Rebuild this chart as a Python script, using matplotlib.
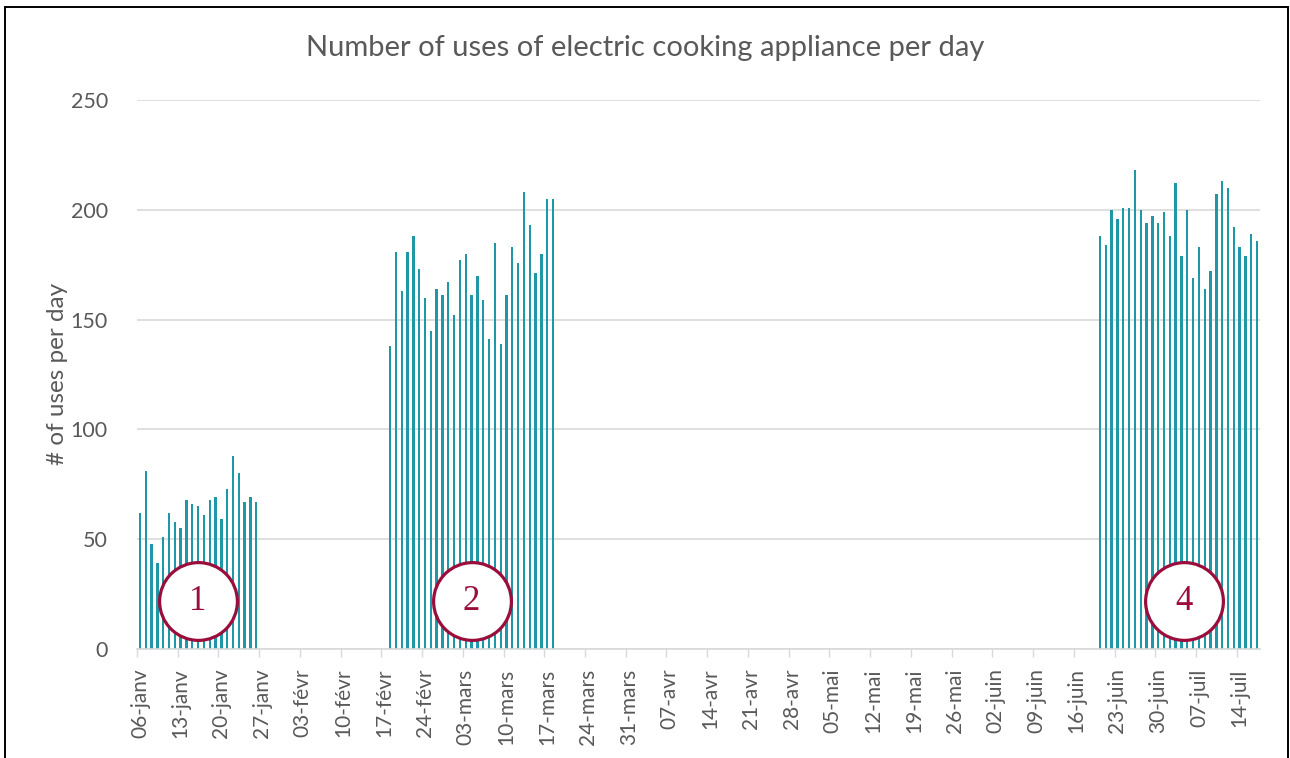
import numpy as np
import pandas as pd
import matplotlib
matplotlib.use('Agg')
import matplotlib.pyplot as plt
import matplotlib.patches as patches

# periodes de mesure (jours consecutifs)
start1 = '2019-01-06'
uses1 = [62, 81, 48, 39, 51, 62, 58, 55, 68, 66, 65, 61, 68, 69, 59, 73, 88, 80, 67, 69, 67]

start2 = '2019-02-18'
uses2 = [138, 181, 163, 181, 188, 173, 160, 145, 164, 161, 167, 152, 177, 180, 161,
         170, 159, 141, 185, 139, 161, 183, 176, 208, 193, 171, 180, 205, 205]

start4 = '2019-06-20'
uses4 = [188, 184, 200, 196, 201, 201, 218, 200, 194, 197, 194, 199, 188, 212, 179,
         200, 169, 183, 164, 172, 207, 213, 210, 192, 183, 179, 189, 186]

first_day = '2019-01-06'
last_day = '2019-07-17'

tick_labels = ['06-janv', '13-janv', '20-janv', '27-janv', '03-févr', '10-févr', '17-févr',
               '24-févr', '03-mars', '10-mars', '17-mars', '24-mars', '31-mars', '07-avr',
               '14-avr', '21-avr', '28-avr', '05-mai', '12-mai', '19-mai', '26-mai',
               '02-juin', '09-juin', '16-juin', '23-juin', '30-juin', '07-juil', '14-juil']

period_labels = ['1', '2', '4']
period_centers = ['2019-01-16', '2019-03-04', '2019-07-04 12:00']

title = 'Number of uses of electric cooking appliance per day'
ylabel = '# of uses per day'

teal = '#1E98A6'
maroon = '#9B0D3A'
grey = '#595959'

plt.rcParams['font.family'] = ['Lato', 'DejaVu Sans']

fig = plt.figure(figsize=(12.9, 7.58), dpi=100)
ax = fig.add_axes([137 / 1290, 1 - 649 / 758, (1260 - 137) / 1290, (649 - 100) / 758])

for start, vals in [(start1, uses1), (start2, uses2), (start4, uses4)]:
    days = pd.date_range(start, periods=len(vals), freq='D')
    ax.bar(days, vals, width=0.4, color=teal, zorder=2)

d0 = pd.Timestamp(first_day)
d1 = pd.Timestamp(last_day)
ax.set_xlim(d0 - pd.Timedelta(hours=12), d1 + pd.Timedelta(hours=12))
ax.set_ylim(0, 250)

week_days = pd.date_range(first_day, periods=len(tick_labels), freq='7D')
ax.set_xticks(week_days, tick_labels, rotation=90, fontsize=15, color=grey)
ax.set_xticks(week_days - pd.Timedelta(hours=12), minor=True)
ax.tick_params(axis='x', which='major', length=0, pad=14)
ax.tick_params(axis='x', which='minor', length=6, color='#D9D9D9', width=1)

ax.set_yticks([0, 50, 100, 150, 200, 250])
ax.tick_params(axis='y', length=0, labelsize=15.5, labelcolor=grey, pad=21)
ax.grid(axis='y', color='#D9D9D9', linewidth=1.2, zorder=0)
ax.set_axisbelow(True)

for s in ['top', 'right', 'left']:
    ax.spines[s].set_visible(False)
ax.spines['bottom'].set_color('#D9D9D9')
ax.spines['bottom'].set_linewidth(1.2)

fig.text(57 / 1290, 1 - 374 / 758, ylabel, fontsize=17.5, color=grey,
         rotation=90, ha='center', va='center')
fig.text(0.5, 1 - 48 / 758, title, fontsize=21, color=grey,
         ha='center', va='center')

# cercles de numerotation des periodes
for lab, c in zip(period_labels, period_centers):
    xc = pd.Timestamp(c)
    ax.scatter([xc], [21.7], s=56 ** 2, facecolor='white', edgecolor=maroon,
               linewidth=2.3, zorder=4)
    ax.text(xc, 21.7, lab, fontsize=25, color=maroon, ha='center', va='center',
            family='Liberation Serif', zorder=5)

fig.patches.append(patches.Rectangle((5 / 1290, -0.1), (1288 - 5) / 1290, 1.1 - 7 / 758,
                                     transform=fig.transFigure, fill=False,
                                     edgecolor='black', linewidth=1.4))

fig.savefig('out.png', dpi=100)
